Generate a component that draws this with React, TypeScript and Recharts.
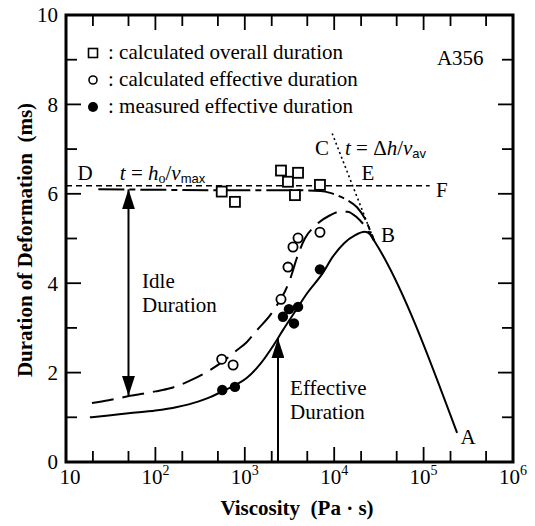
import React from "react";
import {
  ComposedChart, Line, Scatter, XAxis, YAxis, ReferenceLine, ReferenceArea,
} from "recharts";

const SERIF = '"Liberation Serif", "Times New Roman", serif';
const SANS = '"Liberation Sans", Arial, sans-serif';

// axis ticks
const xMajor = [10, 100, 1000, 10000, 100000, 1000000];
const xMinor = [20, 50, 200, 500, 2000, 5000, 20000, 50000, 200000, 500000];
const yMajor = [0, 2, 4, 6, 8, 10];
const yMinor = [1, 3, 5, 7, 9];

// measured / calculated points
const overallDuration = [
  { x: 552, y: 6.05 }, { x: 776, y: 5.82 }, { x: 2540, y: 6.52 }, { x: 3040, y: 6.27 },
  { x: 3640, y: 5.97 }, { x: 3940, y: 6.47 }, { x: 6930, y: 6.2 },
];
const calcEffective = [
  { x: 552, y: 2.3 }, { x: 740, y: 2.17 }, { x: 2540, y: 3.64 }, { x: 3040, y: 4.36 },
  { x: 3460, y: 4.81 }, { x: 3940, y: 5.01 }, { x: 6930, y: 5.14 },
];
const measEffective = [
  { x: 560, y: 1.61 }, { x: 776, y: 1.68 }, { x: 2670, y: 3.25 }, { x: 3120, y: 3.42 },
  { x: 3550, y: 3.1 }, { x: 3940, y: 3.47 }, { x: 6930, y: 4.31 },
];

// model curves
const solidCurve = [
  { x: 18.5, y: 1.0 }, { x: 30, y: 1.04 }, { x: 50, y: 1.09 }, { x: 100, y: 1.15 },
  { x: 175, y: 1.23 }, { x: 300, y: 1.35 }, { x: 410, y: 1.45 }, { x: 560, y: 1.58 },
  { x: 780, y: 1.72 }, { x: 1050, y: 1.88 }, { x: 1500, y: 2.2 }, { x: 2000, y: 2.55 },
  { x: 2350, y: 2.77 }, { x: 2670, y: 2.95 }, { x: 3500, y: 3.31 }, { x: 5000, y: 3.78 },
  { x: 7400, y: 4.22 }, { x: 9700, y: 4.6 }, { x: 13000, y: 4.9 }, { x: 17000, y: 5.07 },
  { x: 22000, y: 5.15 }, { x: 25000, y: 5.1 }, { x: 28000, y: 4.95 }, { x: 237000, y: 0.65 },
];
const dashedCurve = [
  { x: 19.5, y: 1.32 }, { x: 30, y: 1.38 }, { x: 52, y: 1.48 }, { x: 100, y: 1.58 },
  { x: 146, y: 1.65 }, { x: 250, y: 1.83 }, { x: 410, y: 2.06 }, { x: 560, y: 2.24 },
  { x: 813, y: 2.5 }, { x: 1050, y: 2.68 }, { x: 1370, y: 2.95 }, { x: 2000, y: 3.33 },
  { x: 2540, y: 3.66 }, { x: 2820, y: 3.82 }, { x: 3250, y: 4.12 }, { x: 3800, y: 4.55 },
  { x: 4700, y: 5.0 }, { x: 6100, y: 5.28 }, { x: 9000, y: 5.52 }, { x: 11600, y: 5.6 },
  { x: 14000, y: 5.6 }, { x: 18000, y: 5.47 }, { x: 22000, y: 5.28 }, { x: 25000, y: 5.12 },
  { x: 28000, y: 4.95 },
];
const dashDotCurve = [
  { x: 23, y: 6.1 }, { x: 100, y: 6.09 }, { x: 500, y: 6.08 }, { x: 1500, y: 6.08 },
  { x: 4000, y: 6.08 }, { x: 7000, y: 6.06 }, { x: 9000, y: 6.02 }, { x: 11000, y: 5.96 },
  { x: 14000, y: 5.86 }, { x: 18000, y: 5.7 }, { x: 22000, y: 5.45 }, { x: 25000, y: 5.2 },
  { x: 28000, y: 4.95 },
];
const lineDF = [{ x: 10, y: 6.18 }, { x: 117000, y: 6.18 }];
const lineCB = [{ x: 9500, y: 7.35 }, { x: 28000, y: 4.95 }];

// arrows
const idleArrow = [{ x: 50, y: 1.48 }, { x: 50, y: 6.1 }];
const effArrow = [{ x: 2350, y: 0 }, { x: 2350, y: 2.77 }];

// annotations (x, y = text baseline in data units)
const notes = [
  { id: "D", x: 16.3, y: 6.31, anchor: "middle" },
  { id: "f1", x: 40, y: 6.31, anchor: "start" },
  { id: "C", x: 7310, y: 6.87, anchor: "middle" },
  { id: "f2", x: 13200, y: 6.87, anchor: "start" },
  { id: "E", x: 23900, y: 6.31, anchor: "middle" },
  { id: "F", x: 160000, y: 5.93, anchor: "middle" },
  { id: "B", x: 40000, y: 4.92, anchor: "middle" },
  { id: "A", x: 314000, y: 0.4, anchor: "middle" },
  { id: "A356", x: 141000, y: 8.88, anchor: "start" },
  { id: "Idle", x: 71, y: 3.89, anchor: "start" },
  { id: "Duration", x: 71, y: 3.36, anchor: "start" },
  { id: "Effective", x: 3210, y: 1.5, anchor: "start" },
  { id: "Duration", x: 3210, y: 0.96, anchor: "start" },
];

const legendRows = [
  { sym: "square", text: ": calculated overall duration" },
  { sym: "open", text: ": calculated effective duration" },
  { sym: "filled", text: ": measured effective duration" },
];

const PLOT = 447;
const MAJ = 15;
const MIN = 11;

function XTick(props: any) {
  const { x, y, payload } = props;
  const exp = Math.round(Math.log10(payload.value));
  return (
    <text x={x} y={y} dy={14} dx={exp === 1 ? 4 : 0} textAnchor="middle" fontFamily={SERIF} fontSize={21} fill="#000">
      <tspan>10</tspan>
      {exp > 1 && <tspan dy={-9} fontSize={14}>{exp}</tspan>}
    </text>
  );
}

function Square(p: any) {
  return <rect x={p.cx - 5} y={p.cy - 5} width={10} height={10} fill="#fff" stroke="#000" strokeWidth={1.8} />;
}
function OpenDot(p: any) {
  return <circle cx={p.cx} cy={p.cy} r={4.6} fill="#fff" stroke="#000" strokeWidth={1.8} />;
}
function FilledDot(p: any) {
  return <circle cx={p.cx} cy={p.cy} r={5.2} fill="#000" />;
}

function Note(p: any) {
  const { cx, cy, payload } = p;
  const common = { x: cx, y: cy, fontFamily: SERIF, fontSize: 21, fill: "#000", textAnchor: payload.anchor };
  if (payload.id === "f1") {
    return (
      <text {...common}>
        <tspan fontStyle="italic">t</tspan>
        <tspan> = </tspan>
        <tspan fontStyle="italic">h</tspan>
        <tspan fontSize={14} dy={3}>o</tspan>
        <tspan dy={-3}>/</tspan>
        <tspan fontStyle="italic">v</tspan>
        <tspan fontFamily={SANS} fontSize={13} dy={3}>max</tspan>
      </text>
    );
  }
  if (payload.id === "f2") {
    return (
      <text {...common}>
        <tspan fontStyle="italic">t</tspan>
        <tspan> = Δ</tspan>
        <tspan fontStyle="italic">h</tspan>
        <tspan>/</tspan>
        <tspan fontStyle="italic">v</tspan>
        <tspan fontFamily={SANS} fontSize={13} dy={3}>av</tspan>
      </text>
    );
  }
  return <text {...common}>{payload.id}</text>;
}

function arrowShape(double: boolean) {
  return (p: any) => (
    <line
      x1={p.x1} y1={p.y1} x2={p.x2} y2={p.y2}
      stroke="#000" strokeWidth={2}
      markerEnd="url(#ah)"
      markerStart={double ? "url(#ah)" : undefined}
    />
  );
}

export default function App() {
  const dy = (px: number) => (px * 10) / PLOT;
  const fx = (px: number) => Math.pow(10, (px * 5) / PLOT);
  const tick = { stroke: "#000", strokeWidth: 1.8, ifOverflow: "visible" as const };

  return (
    <div style={{ position: "fixed", left: 0, top: 0, background: "#fff" }}>
      <ComposedChart width={535} height={526} margin={{ top: 15, right: 22, left: 0, bottom: 0 }}>
        <defs>
          <marker id="ah" viewBox="0 0 20 13" refX="20" refY="6.5" markerWidth="20" markerHeight="13"
            markerUnits="userSpaceOnUse" orient="auto-start-reverse">
            <path d="M0,0 L20,6.5 L0,13 z" fill="#000" />
          </marker>
        </defs>
        <XAxis dataKey="x" type="number" scale="log" domain={[10, 1000000]} ticks={xMajor}
          allowDataOverflow tickLine={false} axisLine={false} height={64} tick={<XTick />} interval={0} />
        <YAxis dataKey="y" type="number" domain={[0, 10]} ticks={yMajor} tickLine={false} axisLine={false}
          width={66} interval={0} tick={{ fontSize: 21, fill: "#000", fontFamily: SERIF }} />

        {[...xMajor.slice(1, -1), ...xMinor].map((v) => {
          const len = xMajor.includes(v) ? MAJ : MIN;
          return (
            <React.Fragment key={"x" + v}>
              <ReferenceLine {...tick} segment={[{ x: v, y: 0 }, { x: v, y: dy(len) }]} />
              <ReferenceLine {...tick} segment={[{ x: v, y: 10 }, { x: v, y: 10 - dy(len) }]} />
            </React.Fragment>
          );
        })}
        {[...yMajor.slice(1, -1), ...yMinor].map((v) => {
          const len = yMajor.includes(v) ? MAJ : MIN;
          return (
            <React.Fragment key={"y" + v}>
              <ReferenceLine {...tick} segment={[{ x: 10, y: v }, { x: 10 * fx(len), y: v }]} />
              <ReferenceLine {...tick} segment={[{ x: 1000000 / fx(len), y: v }, { x: 1000000, y: v }]} />
            </React.Fragment>
          );
        })}

        <Line data={lineDF} dataKey="y" stroke="#000" strokeWidth={1.6} strokeDasharray="6 4" dot={false} isAnimationActive={false} />
        <Line data={lineCB} dataKey="y" stroke="#000" strokeWidth={1.6} strokeDasharray="2 3" dot={false} isAnimationActive={false} />
        <Line data={dashDotCurve} dataKey="y" type="monotone" stroke="#000" strokeWidth={2} strokeDasharray="26 5 6 5" dot={false} isAnimationActive={false} />
        <Line data={dashedCurve} dataKey="y" type="monotone" stroke="#000" strokeWidth={2} strokeDasharray="22 9" dot={false} isAnimationActive={false} />
        <Line data={solidCurve} dataKey="y" type="monotone" stroke="#000" strokeWidth={2} dot={false} isAnimationActive={false} />

        <ReferenceLine segment={idleArrow} ifOverflow="visible" shape={arrowShape(true)} />
        <ReferenceLine segment={effArrow} ifOverflow="visible" shape={arrowShape(false)} />

        <Scatter data={overallDuration} dataKey="y" shape={<Square />} isAnimationActive={false} />
        <Scatter data={calcEffective} dataKey="y" shape={<OpenDot />} isAnimationActive={false} />
        <Scatter data={measEffective} dataKey="y" shape={<FilledDot />} isAnimationActive={false} />
        <Scatter data={notes} dataKey="y" shape={<Note />} isAnimationActive={false} />

        <ReferenceArea x1={10} x2={1000000} y1={0} y2={10} fill="none" stroke="#000" strokeWidth={3} ifOverflow="visible" />

        <g>
          {legendRows.map((r, i) => {
            const cy = 53 + i * 27;
            return (
              <g key={r.text}>
                {r.sym === "square" && <rect x={88.5} y={cy - 4.5} width={9} height={9} fill="#fff" stroke="#000" strokeWidth={1.6} />}
                {r.sym === "open" && <circle cx={93} cy={cy} r={4} fill="#fff" stroke="#000" strokeWidth={1.6} />}
                {r.sym === "filled" && <circle cx={93} cy={cy} r={5} fill="#000" />}
                <text x={108} y={cy + 6} fontFamily={SERIF} fontSize={21} fill="#000">{r.text}</text>
              </g>
            );
          })}
        </g>
        <text x={297} y={515} textAnchor="middle" fontFamily={SERIF} fontSize={21} fontWeight="bold" fill="#000"
          style={{ whiteSpace: "pre" }}>Viscosity  (Pa · s)</text>
        <text transform="translate(32,240) rotate(-90)" textAnchor="middle" fontFamily={SERIF} fontSize={21}
          fontWeight="bold" fill="#000" style={{ whiteSpace: "pre" }}>Duration of Deformation  (ms)</text>
      </ComposedChart>
    </div>
  );
}
